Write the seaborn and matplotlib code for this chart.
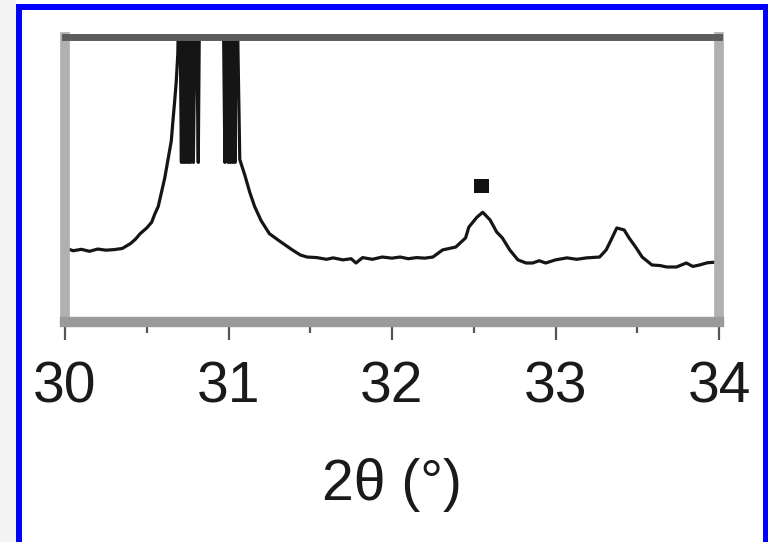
import matplotlib
matplotlib.use("Agg")
import matplotlib.pyplot as plt
from matplotlib.patches import Rectangle
from matplotlib.ticker import MultipleLocator
import numpy as np
import pandas as pd
import seaborn as sns

# Diffraction pattern, 2-theta window 30-34 deg (intensity in arbitrary units);
# the two strong reflections near 30.75 and 31.0 run far off scale
two_theta = [
    30.00, 30.05, 30.10, 30.15, 30.20, 30.25, 30.30, 30.35, 30.40, 30.43,
    30.46, 30.50, 30.53, 30.55, 30.57, 30.59, 30.61, 30.63, 30.65, 30.66,
    30.67, 30.68, 30.69, 30.70,
    30.712, 30.719, 30.726, 30.733, 30.740, 30.747, 30.754, 30.761, 30.768,
    30.775, 30.785, 30.800, 30.815, 30.825,
    30.90,
    30.965, 30.978, 30.990, 30.998, 31.005, 31.012, 31.019, 31.026, 31.033,
    31.040, 31.050,
    31.058, 31.069, 31.10, 31.13, 31.16, 31.20, 31.25, 31.31, 31.39, 31.44,
    31.48, 31.54, 31.60, 31.64, 31.70, 31.75, 31.78, 31.82, 31.88, 31.94,
    32.00, 32.05, 32.10, 32.15, 32.20, 32.25, 32.31, 32.39, 32.45, 32.47,
    32.52, 32.555, 32.60, 32.64, 32.675, 32.72, 32.77, 32.82, 32.86, 32.90,
    32.94, 33.00, 33.07, 33.13, 33.19, 33.27, 33.31, 33.34, 33.375, 33.42,
    33.45, 33.49, 33.53, 33.59, 33.64, 33.68, 33.74, 33.80, 33.84, 33.88,
    33.93, 33.98, 34.00,
]
intensity = [
    26.0, 25.0, 25.5, 24.8, 25.6, 25.2, 25.4, 25.8, 27.5, 29.0,
    31.0, 33.0, 35.0, 38.0, 40.5, 45.5, 50.5, 57.0, 63.5, 70.5,
    77.0, 84.0, 94.0, 130.0,
    56.0, 130.0, 56.0, 130.0, 56.0, 130.0, 56.0, 130.0, 56.0,
    130.0, 56.0, 130.0, 56.0, 130.0,
    140.0,
    130.0, 56.0, 130.0, 56.0, 130.0, 56.0, 130.0, 56.0, 130.0,
    56.0, 130.0,
    95.0, 57.0, 51.5, 45.5, 40.5, 35.5, 31.0, 28.5, 25.3, 23.5,
    22.8, 22.6, 22.0, 22.5, 21.8, 22.2, 20.7, 22.6, 22.0, 22.8,
    22.4, 22.8, 22.2, 22.6, 22.4, 22.8, 25.3, 26.3, 29.5, 33.3,
    36.8, 38.5, 35.8, 31.6, 29.5, 25.3, 21.8, 20.7, 20.7, 21.5,
    20.7, 21.8, 22.5, 22.0, 22.5, 22.8, 25.3, 28.8, 33.0, 32.3,
    29.5, 26.3, 22.8, 20.0, 19.8, 19.3, 19.3, 20.7, 19.5, 20.0,
    20.8, 21.0, 20.8,
]

# Marked reflection
mark_theta = [32.547]
mark_level = [47.7]

major_ticks = [30, 31, 32, 33, 34]
tick_labels = ["30", "31", "32", "33", "34"]
x_label = "2θ (°)"

sns.set_theme(style="white")
plt.rcParams["font.family"] = ["Liberation Sans", "DejaVu Sans"]

df = pd.DataFrame({"two_theta": two_theta, "intensity": intensity})
marks = pd.DataFrame({"two_theta": mark_theta, "intensity": mark_level})

fig = plt.figure(figsize=(7.68, 5.42), dpi=100)
fig.patch.set_facecolor("white")
ax = fig.add_axes([65 / 768, 1 - 322 / 542, 654 / 768, 285 / 542])

sns.lineplot(data=df, x="two_theta", y="intensity", ax=ax, color="#151515",
             linewidth=2.3, estimator=None, sort=False)
sns.scatterplot(data=marks, x="two_theta", y="intensity", ax=ax, marker="s",
                s=110, color="#111111", edgecolor="none", zorder=5)

ax.set_xlim(30, 34)
ax.set_ylim(0, 100)
ax.set_xticks(major_ticks)
ax.set_xticklabels(tick_labels)
ax.xaxis.set_minor_locator(MultipleLocator(0.5))
ax.set_yticks([])
ax.set_xlabel(x_label, fontsize=41, labelpad=31, color="#1a1a1a")
ax.set_ylabel("")

ax.tick_params(axis="x", which="major", direction="out", length=13,
               width=1.6, color="#555555", labelsize=41, pad=15,
               labelcolor="#1a1a1a", bottom=True)
ax.tick_params(axis="x", which="minor", direction="out", length=8,
               width=1.6, color="#555555", bottom=True)

ax.spines["top"].set_color("#5c5c5c")
ax.spines["top"].set_linewidth(5)
for side in ("left", "right"):
    ax.spines[side].set_color("#b0b0b0")
    ax.spines[side].set_linewidth(7)
ax.spines["bottom"].set_color("#9a9a9a")
ax.spines["bottom"].set_linewidth(7.5)

# Page strip at the left and the blue frame around the panel
fig.patches.append(Rectangle((0, 0), 16, 542, transform=None,
                             facecolor="#f3f3f3", edgecolor="none", zorder=0))
fig.patches.append(Rectangle((19, -30), 746.5, 565, transform=None,
                             facecolor="none", edgecolor="#0000ff",
                             linewidth=4.3, zorder=10))

fig.savefig("out.png", dpi=100)
